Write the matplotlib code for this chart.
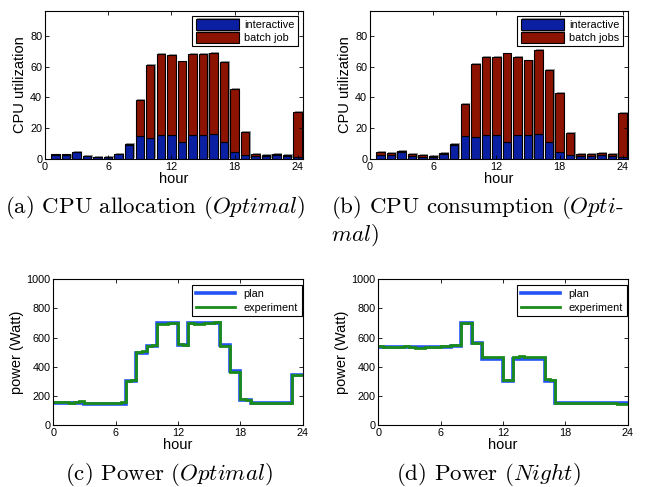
import numpy as np
import matplotlib
matplotlib.use('Agg')
import matplotlib.pyplot as plt
import matplotlib.patheffects as pe

plt.rcParams['font.family'] = ['Liberation Sans', 'DejaVu Sans']
plt.rcParams['mathtext.fontset'] = 'cm'

hours = np.arange(1, 25)

# (a) CPU allocation
alloc_inter = [2.8, 2.5, 4.5, 2.0, 1.5, 1.5, 3.0, 9.3, 15.0, 13.5, 15.7, 15.3,
               11.0, 15.8, 15.8, 16.5, 11.0, 4.5, 2.5, 2.0, 2.0, 2.5, 2.0, 1.5]
alloc_total = [3.0, 3.0, 4.7, 2.2, 1.6, 1.6, 3.2, 9.8, 38.4, 61.0, 67.9, 67.3,
               63.3, 68.0, 68.0, 68.8, 63.0, 45.5, 17.5, 3.5, 2.8, 3.2, 2.8, 30.4]
# (b) CPU consumption
cons_inter = [2.5, 2.5, 4.5, 2.0, 1.5, 1.5, 3.0, 9.3, 15.0, 14.0, 15.7, 15.3,
              11.0, 15.8, 15.8, 16.5, 11.0, 4.5, 2.5, 2.0, 2.0, 2.5, 2.0, 1.5]
cons_total = [4.5, 3.8, 5.5, 3.2, 2.5, 2.2, 4.2, 10.0, 36.0, 61.5, 66.0, 66.0,
              68.5, 66.0, 64.0, 70.5, 58.0, 43.0, 17.0, 3.5, 3.5, 4.0, 3.5, 29.8]

# (c) power, Optimal: hourly plan, half-hourly experiment
opt_plan = [150, 150, 150, 146, 146, 146, 146, 300, 495, 545, 700, 700,
            550, 700, 700, 700, 552, 372, 175, 148, 148, 148, 148, 340]
opt_exp = [160, 158, 155, 153, 155, 162, 150, 150, 150, 150, 150, 150, 152, 155,
           302, 312, 500, 505, 545, 548, 695, 695, 700, 700, 555, 552,
           700, 695, 695, 698, 700, 705, 540, 540, 365, 365, 180, 175,
           152, 150, 150, 152, 150, 150, 150, 152, 340, 340]
# (d) power, Night
night_plan = [535, 535, 535, 535, 535, 535, 535, 545, 700, 560, 455, 455,
              300, 455, 455, 455, 305, 150, 150, 150, 150, 150, 150, 148]
night_exp = [540, 538, 535, 535, 538, 542, 532, 530, 530, 532, 532, 535, 540, 545,
             550, 552, 700, 702, 560, 560, 470, 468, 470, 470, 310, 310,
             470, 472, 470, 468, 470, 470, 315, 312,
             150, 150, 148, 148, 150, 150, 150, 150, 150, 150, 148, 148, 145, 145]

blue = '#0b1fa3'
red = '#8c1300'
shadow = [pe.SimplePatchShadow(offset=(1.0, 0.6), shadow_rgbFace='#909090', alpha=0.9), pe.Normal()]

fig = plt.figure(figsize=(6.49, 4.87), dpi=100)

def style(ax):
    ax.tick_params(direction='in', top=True, right=True, labelsize=7.8, length=3, width=0.6, pad=2)
    for s in ax.spines.values():
        s.set_linewidth(0.8)

def bars(pos, inter, total, lab2):
    ax = fig.add_axes(pos)
    batch = np.array(total) - np.array(inter)
    b1 = ax.bar(hours, inter, width=0.8, color=blue, edgecolor='black', linewidth=0.8, label='interactive')
    b2 = ax.bar(hours, batch, bottom=inter, width=0.8, color=red, edgecolor='black', linewidth=0.8, label=lab2)
    for p in list(b1) + list(b2):
        p.set_path_effects(shadow)
    ax.set_xlim(0, 24.5)
    ax.set_ylim(0, 96)
    ax.set_xticks([0, 6, 12, 18, 24])
    ax.set_yticks([0, 20, 40, 60, 80])
    ax.set_xlabel('hour', fontsize=10.5, labelpad=0)
    ax.set_ylabel('CPU utilization', fontsize=10.5, labelpad=2)
    leg = ax.legend(loc='upper right', fontsize=7.8, fancybox=False, edgecolor='black',
                    handlelength=4.0, handleheight=1.1, borderaxespad=0.45, borderpad=0.3,
                    labelspacing=0.2, handletextpad=0.5, framealpha=1)
    leg.get_frame().set_linewidth(0.8)
    style(ax)
    return ax

def power(pos, plan, exp):
    ax = fig.add_axes(pos)
    ax.stairs(plan, np.arange(0, 25, 1), baseline=None, color='#2352f5', linewidth=2.6, label='plan')
    ax.stairs(exp, np.arange(0, 24.5, 0.5), baseline=None, color='#1b8c1b', linewidth=2.0, label='experiment')
    ax.set_xlim(0, 24)
    ax.set_ylim(0, 1000)
    ax.set_xticks([0, 6, 12, 18, 24])
    ax.set_yticks([0, 200, 400, 600, 800, 1000])
    ax.set_xlabel('hour', fontsize=10.5, labelpad=0)
    ax.set_ylabel('power (Watt)', fontsize=10.5, labelpad=2)
    leg = ax.legend(loc='upper right', bbox_to_anchor=(1.0, 0.965), fontsize=7.8, fancybox=False,
                    edgecolor='black', handlelength=3.6, borderaxespad=0.1, borderpad=0.35,
                    labelspacing=0.3, handletextpad=0.8, framealpha=1)
    leg.get_frame().set_linewidth(0.8)
    style(ax)
    return ax

bars([0.0693, 0.6735, 0.3975, 0.3039], alloc_inter, alloc_total, 'batch job')
bars([0.5701, 0.6735, 0.3975, 0.3039], cons_inter, cons_total, 'batch jobs')
power([0.0821, 0.1273, 0.3843, 0.2992], opt_plan, opt_exp)
power([0.5829, 0.1273, 0.3843, 0.2992], night_plan, night_exp)

cap = dict(fontsize=16.5, family='cmr10')
fig.text(0.008, 0.574, r'(a) CPU allocation ($\mathit{Optimal}$)', ha='left', va='center', **cap)
fig.text(0.510, 0.574, r'(b) CPU consumption ($\mathit{Opti}$-', ha='left', va='center', **cap)
fig.text(0.510, 0.517, r'$\mathit{mal}$)', ha='left', va='center', **cap)
fig.text(0.260, 0.025, r'(c) Power ($\mathit{Optimal}$)', ha='center', va='center', **cap)
fig.text(0.752, 0.025, r'(d) Power ($\mathit{Night}$)', ha='center', va='center', **cap)

fig.savefig('out.png', dpi=100)
